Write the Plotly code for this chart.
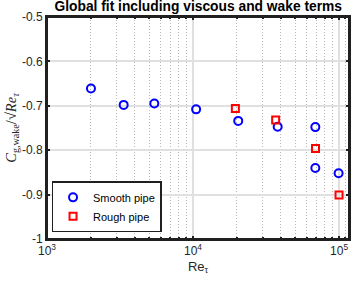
import plotly.graph_objects as go
import numpy as np

smooth_re = [2000, 3350, 5430, 10500, 20400, 38000, 68800, 68800, 99300]
smooth_val = [-0.661, -0.698, -0.695, -0.708, -0.734, -0.747, -0.748, -0.840, -0.852]
rough_re = [19500, 36800, 69000, 100000]
rough_val = [-0.706, -0.732, -0.796, -0.901]

x_ticks = [1e3, 1e4, 1e5]
x_ticktext = ["10<sup>3</sup>", "10<sup>4</sup>", "10<sup>5</sup>"]
y_ticks = [-1, -0.9, -0.8, -0.7, -0.6, -0.5]
y_ticktext = ["-1", "-0.9", "-0.8", "-0.7", "-0.6", "-0.5"]

fig = go.Figure()
fig.add_trace(go.Scatter(x=smooth_re, y=smooth_val, mode="markers", name="Smooth pipe",
                         marker=dict(symbol="circle-open", size=8, color="#0000ff",
                                     line=dict(width=2, color="#0000ff"))))
fig.add_trace(go.Scatter(x=rough_re, y=rough_val, mode="markers", name="Rough pipe",
                         marker=dict(symbol="square-open", size=7, color="#ff0000",
                                     line=dict(width=2, color="#ff0000"))))

axis_common = dict(showline=True, linecolor="#202020", linewidth=2, mirror="allticks",
                   ticks="inside", ticklen=3, tickcolor="#202020", tickwidth=1.5,
                   zeroline=False, automargin=False,
                   tickfont=dict(family="Liberation Sans, Arial", size=12, color="#262626"))

fig.update_xaxes(type="log", range=[3, np.log10(1.17e5)], tickvals=x_ticks, ticktext=x_ticktext,
                 showgrid=True, gridcolor="#e0e0e0", gridwidth=1.5,
                 minor=dict(ticks="inside", ticklen=2, tickcolor="#202020", showgrid=True,
                            gridcolor="#b8b8b8", griddash="1px,2px", gridwidth=1,
                            tickvals=[m * 10**k for k in (3, 4) for m in range(2, 10)] + [1.1e5]),
                 title=dict(text="Re<sub>τ</sub>", font=dict(family="Liberation Sans, Arial", size=13, color="#262626"), standoff=4),
                 **axis_common)
fig.update_yaxes(range=[-1, -0.5], tickvals=y_ticks, ticktext=y_ticktext,
                 showgrid=True, gridcolor="#e0e0e0", gridwidth=1.5,
                 title=dict(text="<i>C</i><sub>g,wake</sub>/√<i>Re</i><sub><i>τ</i></sub>",
                            font=dict(family="Liberation Serif, DejaVu Serif", size=14.5, color="#262626"), standoff=2),
                 **axis_common)

fig.add_shape(type="rect", xref="paper", yref="paper", x0=0, x1=1, y0=0, y1=1,
              line=dict(color="#202020", width=2), layer="above")

fig.update_layout(
    width=354, height=286,
    margin=dict(l=47, r=5, t=17, b=47),
    paper_bgcolor="white", plot_bgcolor="white",
    title=dict(text="<b>Global fit including viscous and wake terms</b>", x=0.56, xanchor="center",
               y=0.997, yanchor="top", automargin=False,
               font=dict(family="Liberation Sans, Arial", size=13.8, color="black")),
    legend=dict(x=0.015, y=0.03, xanchor="left", yanchor="bottom", bgcolor="white",
                bordercolor="#202020", borderwidth=1.5,
                font=dict(family="Liberation Sans, Arial", size=11, color="black"),
                tracegroupgap=0, itemwidth=30),
    showlegend=True,
)

fig.write_html("out.html", config={"displayModeBar": False},
               post_script="document.body.style.margin='0';document.body.style.overflow='hidden';")
